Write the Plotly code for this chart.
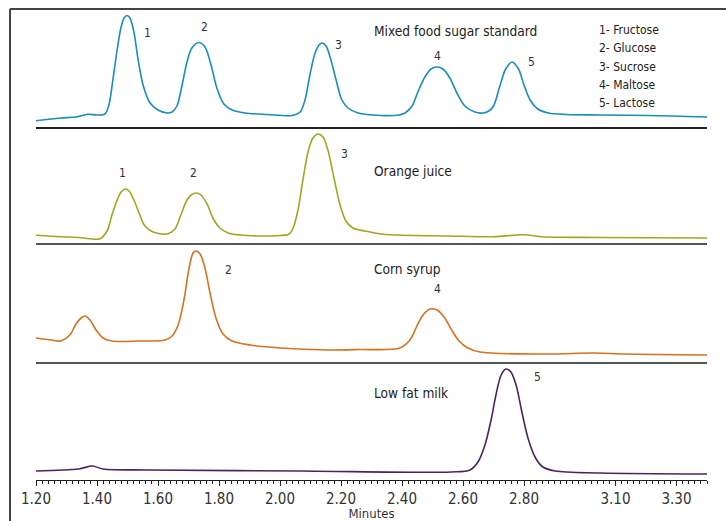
import plotly.graph_objects as go

# ---- data (retention time in minutes, detector response in arbitrary units) ----
mix_t = [1.20, 1.28, 1.33, 1.37, 1.40, 1.426, 1.439, 1.452, 1.466, 1.479, 1.489, 1.498, 1.508, 1.521,
         1.534, 1.551, 1.574, 1.60, 1.63, 1.646, 1.662, 1.679, 1.695, 1.711, 1.734, 1.754, 1.774,
         1.793, 1.816, 1.843, 1.885, 1.96, 2.04, 2.066, 2.082, 2.098, 2.115, 2.128, 2.138, 2.151,
         2.167, 2.184, 2.203, 2.223, 2.256, 2.33, 2.39, 2.41, 2.433, 2.452, 2.475, 2.495, 2.515,
         2.534, 2.557, 2.58, 2.606, 2.639, 2.665, 2.685, 2.70, 2.72, 2.74, 2.761, 2.782, 2.80,
         2.82, 2.845, 2.88, 2.94, 3.05, 3.21, 3.40]
mix_r = [6.3, 9, 10, 12.7, 12, 13, 22, 47, 77, 100, 109, 111.5, 109, 95,
         69, 42, 24, 17, 14, 15, 21, 42, 65, 79, 84.5, 80, 62,
         39, 23, 17, 14, 12.5, 11.5, 15, 27, 52, 74, 82, 84, 81,
         67, 47, 27, 19, 14, 11.5, 12, 14, 21, 35, 50, 58, 60,
         58, 49, 34, 21, 15, 14, 16, 21, 40, 58, 65, 58, 42,
         27, 18, 14, 12.5, 12, 11.5, 10]

oj_t = [1.20, 1.28, 1.34, 1.41, 1.433, 1.449, 1.466, 1.479, 1.492, 1.505, 1.521, 1.538, 1.557,
        1.584, 1.613, 1.635, 1.656, 1.675, 1.695, 1.711, 1.725, 1.741, 1.761, 1.78, 1.803, 1.83,
        1.869, 1.93, 2.00, 2.03, 2.043, 2.059, 2.075, 2.092, 2.108, 2.125, 2.141, 2.157, 2.177,
        2.197, 2.216, 2.239, 2.279, 2.33, 2.38, 2.55, 2.70, 2.80, 2.86, 3.05, 3.40]
oj_r = [7.7, 6.3, 5.5, 4.3, 12, 28, 43, 51, 54, 52, 43, 30, 17,
        11, 9, 9.5, 14, 28, 43, 48.5, 50, 48, 39, 25, 15, 10,
        8, 7, 7.5, 9, 15, 33, 63, 91, 105, 109, 106, 93, 65,
        38, 22, 15, 12, 9, 8, 7, 6.3, 8.3, 6.3, 5.5, 5]

corn_t = [1.20, 1.25, 1.279, 1.311, 1.331, 1.348, 1.361, 1.377, 1.397, 1.42, 1.449, 1.541, 1.623,
          1.646, 1.666, 1.685, 1.702, 1.715, 1.725, 1.738, 1.754, 1.77, 1.79, 1.813, 1.843, 1.902,
          2.00, 2.16, 2.26, 2.393, 2.426, 2.449, 2.469, 2.492, 2.515, 2.538, 2.561, 2.587, 2.616,
          2.656, 2.87, 3.03, 3.13, 3.40]
corn_r = [24, 22, 21, 27, 38, 44, 46, 42, 32, 24, 21, 21, 22,
          26, 37, 62, 94, 109, 111, 108, 94, 70, 44, 28, 21, 17,
          14, 12, 12.5, 14, 22, 36, 47, 53, 52, 45, 33, 21, 14,
          10, 8, 9, 8, 7]

milk_t = [1.20, 1.34, 1.385, 1.42, 1.57, 2.07, 2.56, 2.623, 2.649, 2.672, 2.692, 2.708, 2.725,
          2.741, 2.757, 2.774, 2.793, 2.813, 2.836, 2.862, 2.902, 3.05, 3.40]
milk_r = [9, 11, 14, 11, 10, 9, 8, 10, 18, 35, 60, 85, 105,
          111, 108, 95, 68, 42, 23, 13, 9, 7, 6]

tick_vals = [1.2, 1.4, 1.6, 1.8, 2.0, 2.2, 2.4, 2.6, 2.8, 3.1, 3.3]
tick_text = ["1.20", "1.40", "1.60", "1.80", "2.00", "2.20", "2.40", "2.60", "2.80", "3.10", "3.30"]

sample_names = ["Mixed food sugar standard", "Orange juice", "Corn syrup", "Low fat milk"]
legend_lines = ["1- Fructose", "2- Glucose", "3- Sucrose", "4- Maltose", "5- Lactose"]

# peak labels: (panel, time, response, text)
peak_labels = [
    (0, 1.564, 94, "1"), (0, 1.751, 100, "2"), (0, 2.193, 82, "3"), (0, 2.515, 71, "4"), (0, 2.823, 65, "5"),
    (1, 1.485, 70, "1"), (1, 1.715, 70, "2"), (1, 2.210, 89, "3"),
    (2, 1.830, 92, "2"), (2, 2.515, 73, "4"),
    (3, 2.843, 103, "5"),
]

FONT = "DejaVu Sans Condensed, DejaVu Sans, sans-serif"
colors = ["#1a8dba", "#a3a520", "#d8721f", "#4a2462"]
series = [(mix_t, mix_r), (oj_t, oj_r), (corn_t, corn_r), (milk_t, milk_r)]

W, H = 726, 521
ml, mr, mt, mb = 36, 19, 9, 41
ph = H - mt - mb
# panel boundaries (pixel rows of separators)
seps = [9, 127, 243, 362, 480]
domains = [[(480 - seps[i + 1]) / ph, (480 - seps[i]) / ph] for i in range(4)]
yranges = [[0, seps[i + 1] - seps[i]] for i in range(4)]

fig = go.Figure()
for i, (t, r) in enumerate(series):
    n = "" if i == 0 else str(i + 1)
    fig.add_trace(go.Scatter(x=t, y=r, mode="lines", xaxis="x" + n, yaxis="y" + n,
                             line=dict(color=colors[i], width=1.6, shape="spline", smoothing=0.9),
                             showlegend=False, hoverinfo="skip"))

layout = dict(width=W, height=H, margin=dict(l=ml, r=mr, t=mt, b=mb),
              paper_bgcolor="white", plot_bgcolor="white",
              font=dict(family=FONT, color="#333", size=13), showlegend=False)

sep_colors = ["#222", "#555", "#555", "#222"]
for i in range(4):
    n = "" if i == 0 else str(i + 1)
    ax = dict(range=[1.2, 3.4], domain=[0, 1], anchor="y" + n, showgrid=False, zeroline=False,
              showline=True, linecolor=sep_colors[i], linewidth=2 if i < 3 else 1.2)
    if i < 3:
        ax.update(showticklabels=False, ticks="", matches="x4")
    else:
        ax.update(tickvals=tick_vals, ticktext=tick_text, ticks="outside", ticklen=5,
                  tickcolor="#222", tickwidth=1, automargin=False,
                  minor=dict(dtick=0.02, tick0=1.2, ticks="outside", ticklen=3, tickcolor="#222", tickwidth=0.8),
                  tickfont=dict(size=15, color="#333", family=FONT),
                  title=dict(text="Minutes", font=dict(size=13, color="#333", family=FONT), standoff=3))
    layout["xaxis" + n] = ax
    layout["yaxis" + n] = dict(domain=domains[i], range=yranges[i], anchor="x" + n,
                               visible=False, fixedrange=True)

annotations = []
for i, name in enumerate(sample_names):
    n = "" if i == 0 else str(i + 1)
    ypos = [96, 72, 93, 87][i]
    annotations.append(dict(x=2.302, y=ypos, xref="x" + n, yref="y" + n, text=name, showarrow=False,
                            xanchor="left", yanchor="middle", font=dict(size=13.6, color="#222", family=FONT)))
for p, t, r, txt in peak_labels:
    n = "" if p == 0 else str(p + 1)
    annotations.append(dict(x=t, y=r, xref="x" + n, yref="y" + n, text=txt, showarrow=False,
                            font=dict(size=12, color="#333", family=FONT)))
for k, txt in enumerate(legend_lines):
    annotations.append(dict(x=3.039, y=97 - 18.3 * k, xref="x", yref="y", text=txt, showarrow=False,
                            xanchor="left", yanchor="middle", font=dict(size=12, color="#222", family=FONT)))
layout["annotations"] = annotations

fl = (10 - ml) / (W - ml - mr)
layout["shapes"] = [
    dict(type="line", xref="paper", yref="paper", x0=fl, x1=1.05, y0=1, y1=1,
         line=dict(color="#444", width=2)),
    dict(type="line", xref="paper", yref="paper", x0=fl, x1=fl, y0=1, y1=-0.1,
         line=dict(color="#444", width=2)),
]

fig.update_layout(**layout)
fig.write_html("out.html", config={"displayModeBar": False},
               post_script="document.body.style.margin='0';document.body.style.overflow='hidden';")
